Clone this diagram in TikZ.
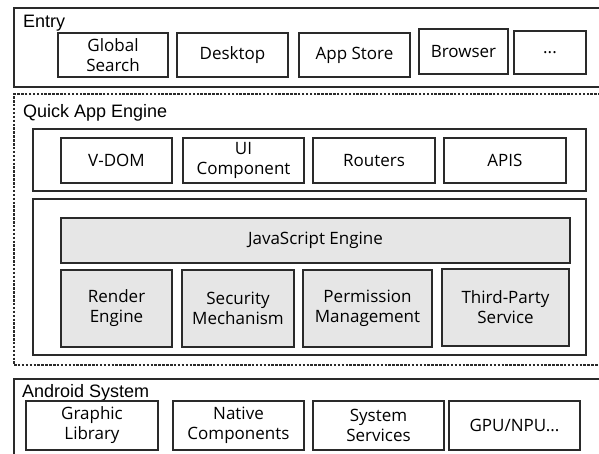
\documentclass[tikz,border=0pt]{standalone}
\usepackage{fontspec}
\setmainfont{Open Sans}
\newfontfamily\layerfont{Liberation Sans}
\definecolor{edge}{HTML}{2A2A2A}
\definecolor{core}{HTML}{E6E6E6}
\tikzset{
  frame/.style={draw=edge, line width=1.4pt, inner sep=0pt, outer sep=0pt, anchor=north west},
  dashframe/.style={frame, dashed, dash pattern=on 2.5pt off 1.4pt, line width=1.2pt},
  layer/.style={anchor=base west, inner sep=0pt, font=\layerfont\fontsize{18}{20}\selectfont, text=black},
  item/.style={draw=edge, line width=1.2pt, inner sep=0pt, outer sep=0pt, align=center,
    font=\fontsize{17}{20}\selectfont, text=black},
  engine/.style={item, fill=core},
}
\newcommand{\boxat}[7]{% style, name, x0, y0, x1, y1, text
  \node[#1, minimum width={#5-#3}, minimum height={#6-#4}] (#2) at ({(#3+#5)/2},{(#4+#6)/2}) {#7};}
\begin{document}
\begin{tikzpicture}[x=1pt,y=-1pt]
  \clip (0,0) rectangle (599,453);
  \fill[white] (0,0) rectangle (599,453);

  % Entry layer
  \node[frame, minimum width=620pt, minimum height=79pt] (entry) at (14,8) {};
  \node[layer] (entrylbl) at (23,27) {Entry};
  \boxat{item}{gsearch}{58}{33}{168}{77}{Global\\Search}
  \boxat{item}{desktop}{177}{33}{288}{77}{Desktop}
  \boxat{item}{appstore}{299}{33}{410}{77}{App Store}
  \boxat{item}{browser}{419}{29}{508}{74}{Browser}
  \boxat{item}{more}{514}{31}{586}{74}{...}

  % Quick App Engine layer
  \node[dashframe, minimum width=620pt, minimum height=271pt] (qae) at (14,94) {};
  \node[layer] (qaelbl) at (23,117) {Quick App Engine};
  \node[frame, line width=1.2pt, minimum width=553pt, minimum height=62pt] (front) at (33,129) {};
  \boxat{item}{vdom}{61}{138}{172}{183}{V-DOM}
  \boxat{item}{uicomp}{183}{138}{304}{183}{UI\\Component}
  \boxat{item}{routers}{313}{138}{435}{183}{Routers}
  \boxat{item}{apis}{444}{138}{566}{183}{APIS}

  \node[frame, line width=1.2pt, minimum width=553pt, minimum height=156pt] (back) at (33,199) {};
  \boxat{engine}{jsengine}{61}{218}{570}{263}{JavaScript Engine}
  \boxat{engine}{render}{61}{270}{172}{347}{Render\\Engine}
  \boxat{engine}{security}{182}{270}{294}{347}{Security\\Mechanism}
  \boxat{engine}{permission}{303}{270}{432}{347}{Permission\\Management}
  \boxat{engine}{thirdparty}{442}{269}{569}{346}{Third-Party\\Service}

  % Android System layer
  \node[frame, minimum width=620pt, minimum height=100pt] (android) at (14,379) {};
  \node[layer] (androidlbl) at (22,397) {Android System};
  \boxat{item}{graphic}{26}{401}{158}{450}{Graphic\\Library}
  \boxat{item}{native}{173}{401}{304}{450}{Native\\Components}
  \boxat{item}{services}{313}{401}{444}{450}{System\\Services}
  \boxat{item}{gpu}{449}{401}{580}{450}{GPU/NPU...}
\end{tikzpicture}
\end{document}
